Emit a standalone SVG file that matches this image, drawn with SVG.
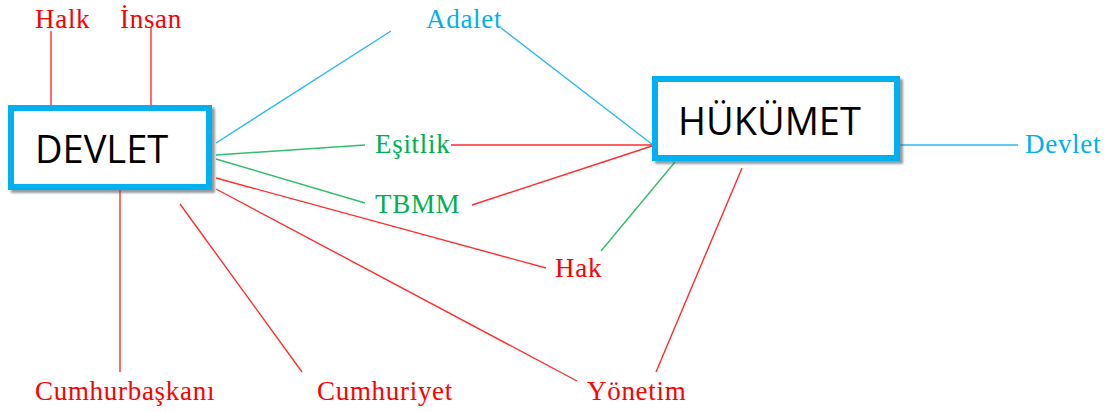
<svg xmlns="http://www.w3.org/2000/svg" width="1109" height="412" viewBox="0 0 1109 412">
<style>
.lbl{font-family:"Liberation Serif","Times New Roman",serif;font-size:27px;letter-spacing:0.7px}
.r{fill:#ff0000}.g{fill:#00b050}.b{fill:#00b0f0}
.box{fill:#ffffff;stroke:#00b0f0;stroke-width:6}
.bt{font-family:"Open Sans",sans-serif;font-size:38px;fill:#000000}
.lr{stroke:#ff2d2d;stroke-width:1.4;fill:none}
.lg{stroke:#2fbf6a;stroke-width:1.4;fill:none}
.lb{stroke:#2cb8f0;stroke-width:1.4;fill:none}
</style>
<defs>
<filter id="sh" x="-10%" y="-10%" width="125%" height="130%">
<feDropShadow dx="3" dy="3" stdDeviation="1.2" flood-color="#4a5a66" flood-opacity="0.6"/>
</filter>
</defs>
<rect width="1109" height="412" fill="#ffffff"/>
<g id="connectors">
<line class="lb" x1="216" y1="143" x2="391" y2="31"/>
<line class="lb" x1="501" y1="28" x2="653" y2="145"/>
<line class="lb" x1="899" y1="145" x2="1018" y2="145"/>
<line class="lg" x1="216" y1="155" x2="365" y2="145"/>
<line class="lg" x1="216" y1="159" x2="365" y2="203"/>
<line class="lg" x1="601" y1="251" x2="675" y2="162"/>
<line class="lr" x1="51" y1="31" x2="51" y2="105"/>
<line class="lr" x1="151" y1="27" x2="151" y2="105"/>
<line class="lr" x1="451" y1="145" x2="652" y2="145"/>
<line class="lr" x1="472" y1="205" x2="652" y2="146"/>
<line class="lr" x1="216" y1="178" x2="546" y2="268"/>
<line class="lr" x1="216" y1="189" x2="577" y2="381"/>
<line class="lr" x1="120" y1="190" x2="120" y2="372"/>
<line class="lr" x1="180" y1="204" x2="302" y2="372"/>
<line class="lr" x1="742" y1="168" x2="656" y2="372"/>
</g>
<g id="devlet-box">
<rect class="box" x="11" y="108" width="198" height="79" filter="url(#sh)"/>
<text class="bt" x="35" y="163">DEVLET</text>
</g>
<g id="hukumet-box">
<rect class="box" x="655" y="79" width="242" height="79" filter="url(#sh)"/>
<text class="bt" x="678" y="135">HÜKÜMET</text>
</g>
<g id="halk"><text class="lbl r" x="35" y="28">Halk</text></g>
<g id="insan"><text class="lbl r" x="120" y="28">İnsan</text></g>
<g id="adalet"><text class="lbl b" x="426" y="28">Adalet</text></g>
<g id="esitlik"><text class="lbl g" x="375" y="153">Eşitlik</text></g>
<g id="tbmm"><text class="lbl g" x="375" y="213">TBMM</text></g>
<g id="hak"><text class="lbl r" x="555" y="277">Hak</text></g>
<g id="devlet-label"><text class="lbl b" x="1025" y="153">Devlet</text></g>
<g id="cumhurbaskani"><text class="lbl r" x="35" y="400">Cumhurbaşkanı</text></g>
<g id="cumhuriyet"><text class="lbl r" x="317" y="400">Cumhuriyet</text></g>
<g id="yonetim"><text class="lbl r" x="587" y="400">Yönetim</text></g>
</svg>
